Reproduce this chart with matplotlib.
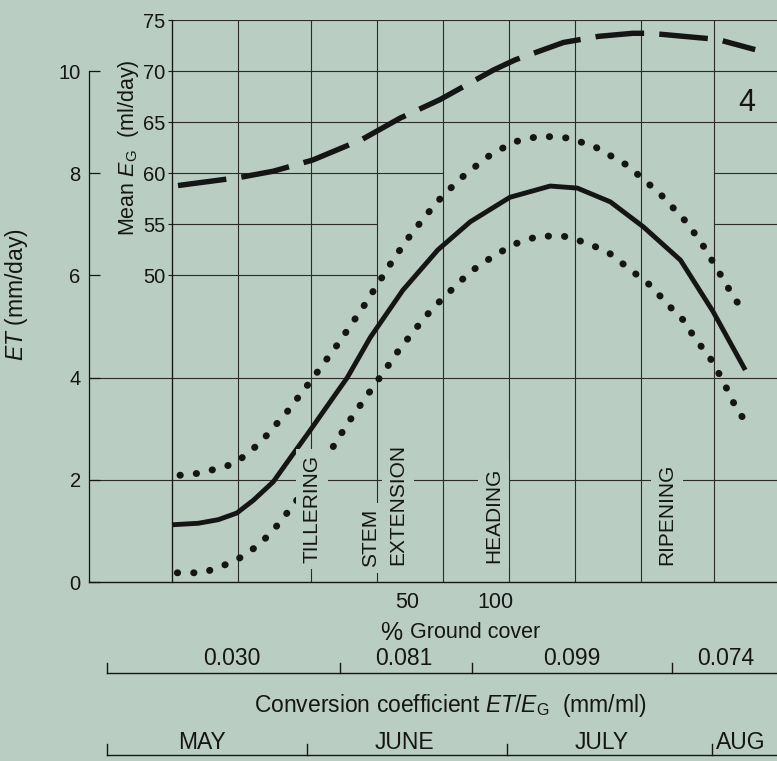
import matplotlib
matplotlib.use("Agg")
import matplotlib.pyplot as plt

plt.rcParams['font.family'] = ['Liberation Sans', 'DejaVu Sans']
plt.rcParams['mathtext.fontset'] = 'custom'
plt.rcParams['mathtext.rm'] = 'Liberation Sans'
plt.rcParams['mathtext.it'] = 'Liberation Sans:italic'

bg = '#bacdc3'
ink = '#151515'
grid_c = '#2b2b2b'

# x = days from 1 May
et_days = [10, 14, 17, 19.8, 22.3, 25.3, 28, 30.9, 33.5, 36.5, 40.0, 44.9, 50.2, 55.1,
           61.1, 67.2, 71.3, 76.3, 81.3, 86.9, 91.8, 96.7]
et_mean = [1.12, 1.15, 1.22, 1.35, 1.6, 1.96, 2.45, 2.97, 3.45, 4.0, 4.79, 5.71, 6.5, 7.05,
           7.53, 7.75, 7.71, 7.44, 6.95, 6.3, 5.3, 4.15]

upper_days = [11.2, 14.2, 18.3, 20.0, 23.3, 27.4, 31.3, 35.1, 38.9, 41.3, 43.4, 45.6, 48.3,
              51.0, 54.2, 57.7, 61.6, 65.7, 69.9, 73.8, 78.8, 83.8, 87.9, 90.2, 92.2, 95.2, 96.4]
upper_et = [2.09, 2.13, 2.27, 2.37, 2.72, 3.33, 3.99, 4.66, 5.38, 5.87, 6.30, 6.71, 7.16,
            7.57, 7.96, 8.32, 8.61, 8.73, 8.69, 8.53, 8.16, 7.6, 7.03, 6.61, 6.18, 5.52, 5.34]

lower_days = [10.8, 14.7, 18.3, 20.0, 23.3, 26.0, 28.6, 31.0, 33.6, 36.6, 39.0, 41.8, 44.2,
              46.8, 49.3, 52.2, 55.1, 58.4, 61.7, 65.4, 69.2, 72.9, 76.1, 82.3, 85.8, 87.3,
              89.1, 91.4, 93.2, 95.6, 96.8]
lower_et = [0.18, 0.18, 0.35, 0.45, 0.74, 1.12, 1.55, 2.0, 2.49, 3.11, 3.56, 4.07, 4.52,
            4.95, 5.34, 5.71, 6.07, 6.36, 6.61, 6.77, 6.77, 6.63, 6.44, 5.81, 5.32, 5.13,
            4.77, 4.38, 3.97, 3.33, 3.15]

eg_days = [10.9, 20.3, 25.3, 31.3, 38.7, 44.5, 50.5, 58.6, 61.9, 69.2, 74.5, 79.7, 82.3,
           89.1, 92.5, 98.2]
eg_mean = [58.8, 59.6, 60.2, 61.3, 63.3, 65.4, 67.2, 70.1, 71.1, 72.8, 73.4, 73.7, 73.7,
           73.3, 73.1, 72.1]

grid_days = [10, 20, 31, 41, 51, 61, 71, 81, 92]
et_ticks = [0, 2, 4, 6, 8, 10]
eg_ticks = [50, 55, 60, 65, 70, 75]
eg_grid = {75: [(10, 101.5)], 70: [(10, 101.5)], 65: [(10, 101.5)],
           60: [(10, 51), (92, 101.5)], 55: [(10, 41), (92, 101.5)], 50: [(10, 41)]}

stage_names = ['TILLERING', 'STEM', 'EXTENSION', 'HEADING', 'RIPENING']
stage_x = [31.2, 40.0, 44.2, 58.6, 84.9]
stage_bottom = [0.37, 0.29, 0.33, 0.37, 0.33]

cover_labels = ['50', '100']
cover_x = [45.6, 58.9]

coef_edges = [0.2, 35.4, 55.4, 85.6, 101.5]
coef_labels = ['0.030', '0.081', '0.099', '0.074']
coef_x = [19.1, 45.1, 70.5, 93.7]

month_edges = [0.2, 30.4, 60.7, 91.7, 101.5]
month_labels = ['MAY', 'JUNE', 'JULY', 'AUG']
month_x = [14.5, 45.2, 75.0, 92.3]

fig = plt.figure(figsize=(7.77, 7.61), dpi=100, facecolor=bg)
ax = fig.add_axes([89 / 777, 179 / 761, 688 / 777, 562 / 761])
ax.set_facecolor(bg)
ax.set_xlim(-2.56, 101.5)
ax.set_ylim(0, 11)

for s in ['top', 'right']:
    ax.spines[s].set_visible(False)
ax.spines['left'].set_bounds(0, 10)
ax.spines['left'].set_color(ink)
ax.spines['bottom'].set_color(ink)
ax.spines['left'].set_linewidth(0.9)
ax.spines['bottom'].set_linewidth(1.0)
ax.set_xticks([])
ax.set_yticks(et_ticks)
ax.tick_params(axis='y', direction='in', length=8, width=0.9, pad=6,
               labelsize=14.5, colors=ink)

# grid
ax.vlines(grid_days, 0, 11, color=grid_c, lw=0.8, zorder=1)
for lev in [2, 4]:
    ax.axhline(lev, color=grid_c, lw=0.8, zorder=1)

ax.plot(et_days, et_mean, color=ink, lw=3.5, solid_capstyle='butt',
        solid_joinstyle='round', zorder=3)
for xs, ys in [(upper_days, upper_et), (lower_days, lower_et)]:
    ax.plot(xs, ys, color=ink, lw=5.0, ls=(0, (0.05, 2.3)),
            dash_capstyle='round', zorder=3)

for name, x, y in zip(stage_names, stage_x, stage_bottom):
    ax.text(x, y, name, rotation=90, ha='center', va='bottom', fontsize=15,
            color=ink, zorder=5,
            bbox=dict(boxstyle='square,pad=0.3', fc=bg, ec='none'))

ax.text(97.0, 9.37, '4', fontsize=22, ha='center', va='center', color=ink)

ax.text(-0.1047, 0.511, '$ET$ (mm/day)', rotation=90, transform=ax.transAxes,
        ha='center', va='center', fontsize=16.5, color=ink)

# E_G scale
ax2 = ax.twinx()
ax2.set_ylim(20, 75)
for s in ['top', 'right', 'bottom']:
    ax2.spines[s].set_visible(False)
ax2.spines['left'].set_position(('data', 10))
ax2.spines['left'].set_color(ink)
ax2.spines['left'].set_linewidth(0.9)
ax2.yaxis.set_ticks_position('left')
ax2.set_yticks(eg_ticks)
ax2.tick_params(axis='y', direction='out', length=3, width=0.8, pad=2,
                labelsize=14.5, colors=ink)
for lev, segs in eg_grid.items():
    for a, b in segs:
        ax2.hlines(lev, a, b, color=grid_c, lw=0.8, zorder=1)
ax2.plot(eg_days, eg_mean, color=ink, lw=3.9, ls=(0, (9, 2.8)),
         dash_capstyle='butt', zorder=3)
ax2.text(0.0567, 0.772, 'Mean $E_{\\rm G}$  (ml/day)', rotation=90,
         transform=ax.transAxes, ha='center', va='center', fontsize=15.5, color=ink)

# scales below the axis
tr = ax.get_xaxis_transform()
for lab, x in zip(cover_labels, cover_x):
    ax.text(x, -0.0356, lab, transform=tr, ha='center', va='center',
            fontsize=15.5, color=ink)
ax.text(43.2, -0.091, '%', transform=tr, ha='center', va='center',
        fontsize=18, color=ink)
ax.text(55.9, -0.089, 'Ground cover', transform=tr, ha='center', va='center',
        fontsize=15.5, color=ink)

ax.plot([coef_edges[0], coef_edges[-1]], [-0.162, -0.162], transform=tr,
        color=ink, lw=1.0, clip_on=False)
for e in coef_edges[:-1]:
    ax.plot([e, e], [-0.162, -0.145], transform=tr, color=ink, lw=1.0, clip_on=False)
for lab, x in zip(coef_labels, coef_x):
    ax.text(x, -0.136, lab, transform=tr, ha='center', va='center',
            fontsize=16.5, color=ink)
ax.text(52.1, -0.219, 'Conversion coefficient $ET/E_{\\rm G}$  (mm/ml)', transform=tr,
        ha='center', va='center', fontsize=16.5, color=ink)

ax.plot([month_edges[0], month_edges[-1]], [-0.308, -0.308], transform=tr,
        color=ink, lw=1.0, clip_on=False)
for e in month_edges[:-1]:
    ax.plot([e, e], [-0.308, -0.288], transform=tr, color=ink, lw=1.0, clip_on=False)
for lab, x in zip(month_labels, month_x):
    ax.text(x, -0.285, lab, transform=tr, ha='center' if lab != 'AUG' else 'left',
            va='center', fontsize=16.5, color=ink)

fig.savefig('out.png', dpi=100, facecolor=bg)
